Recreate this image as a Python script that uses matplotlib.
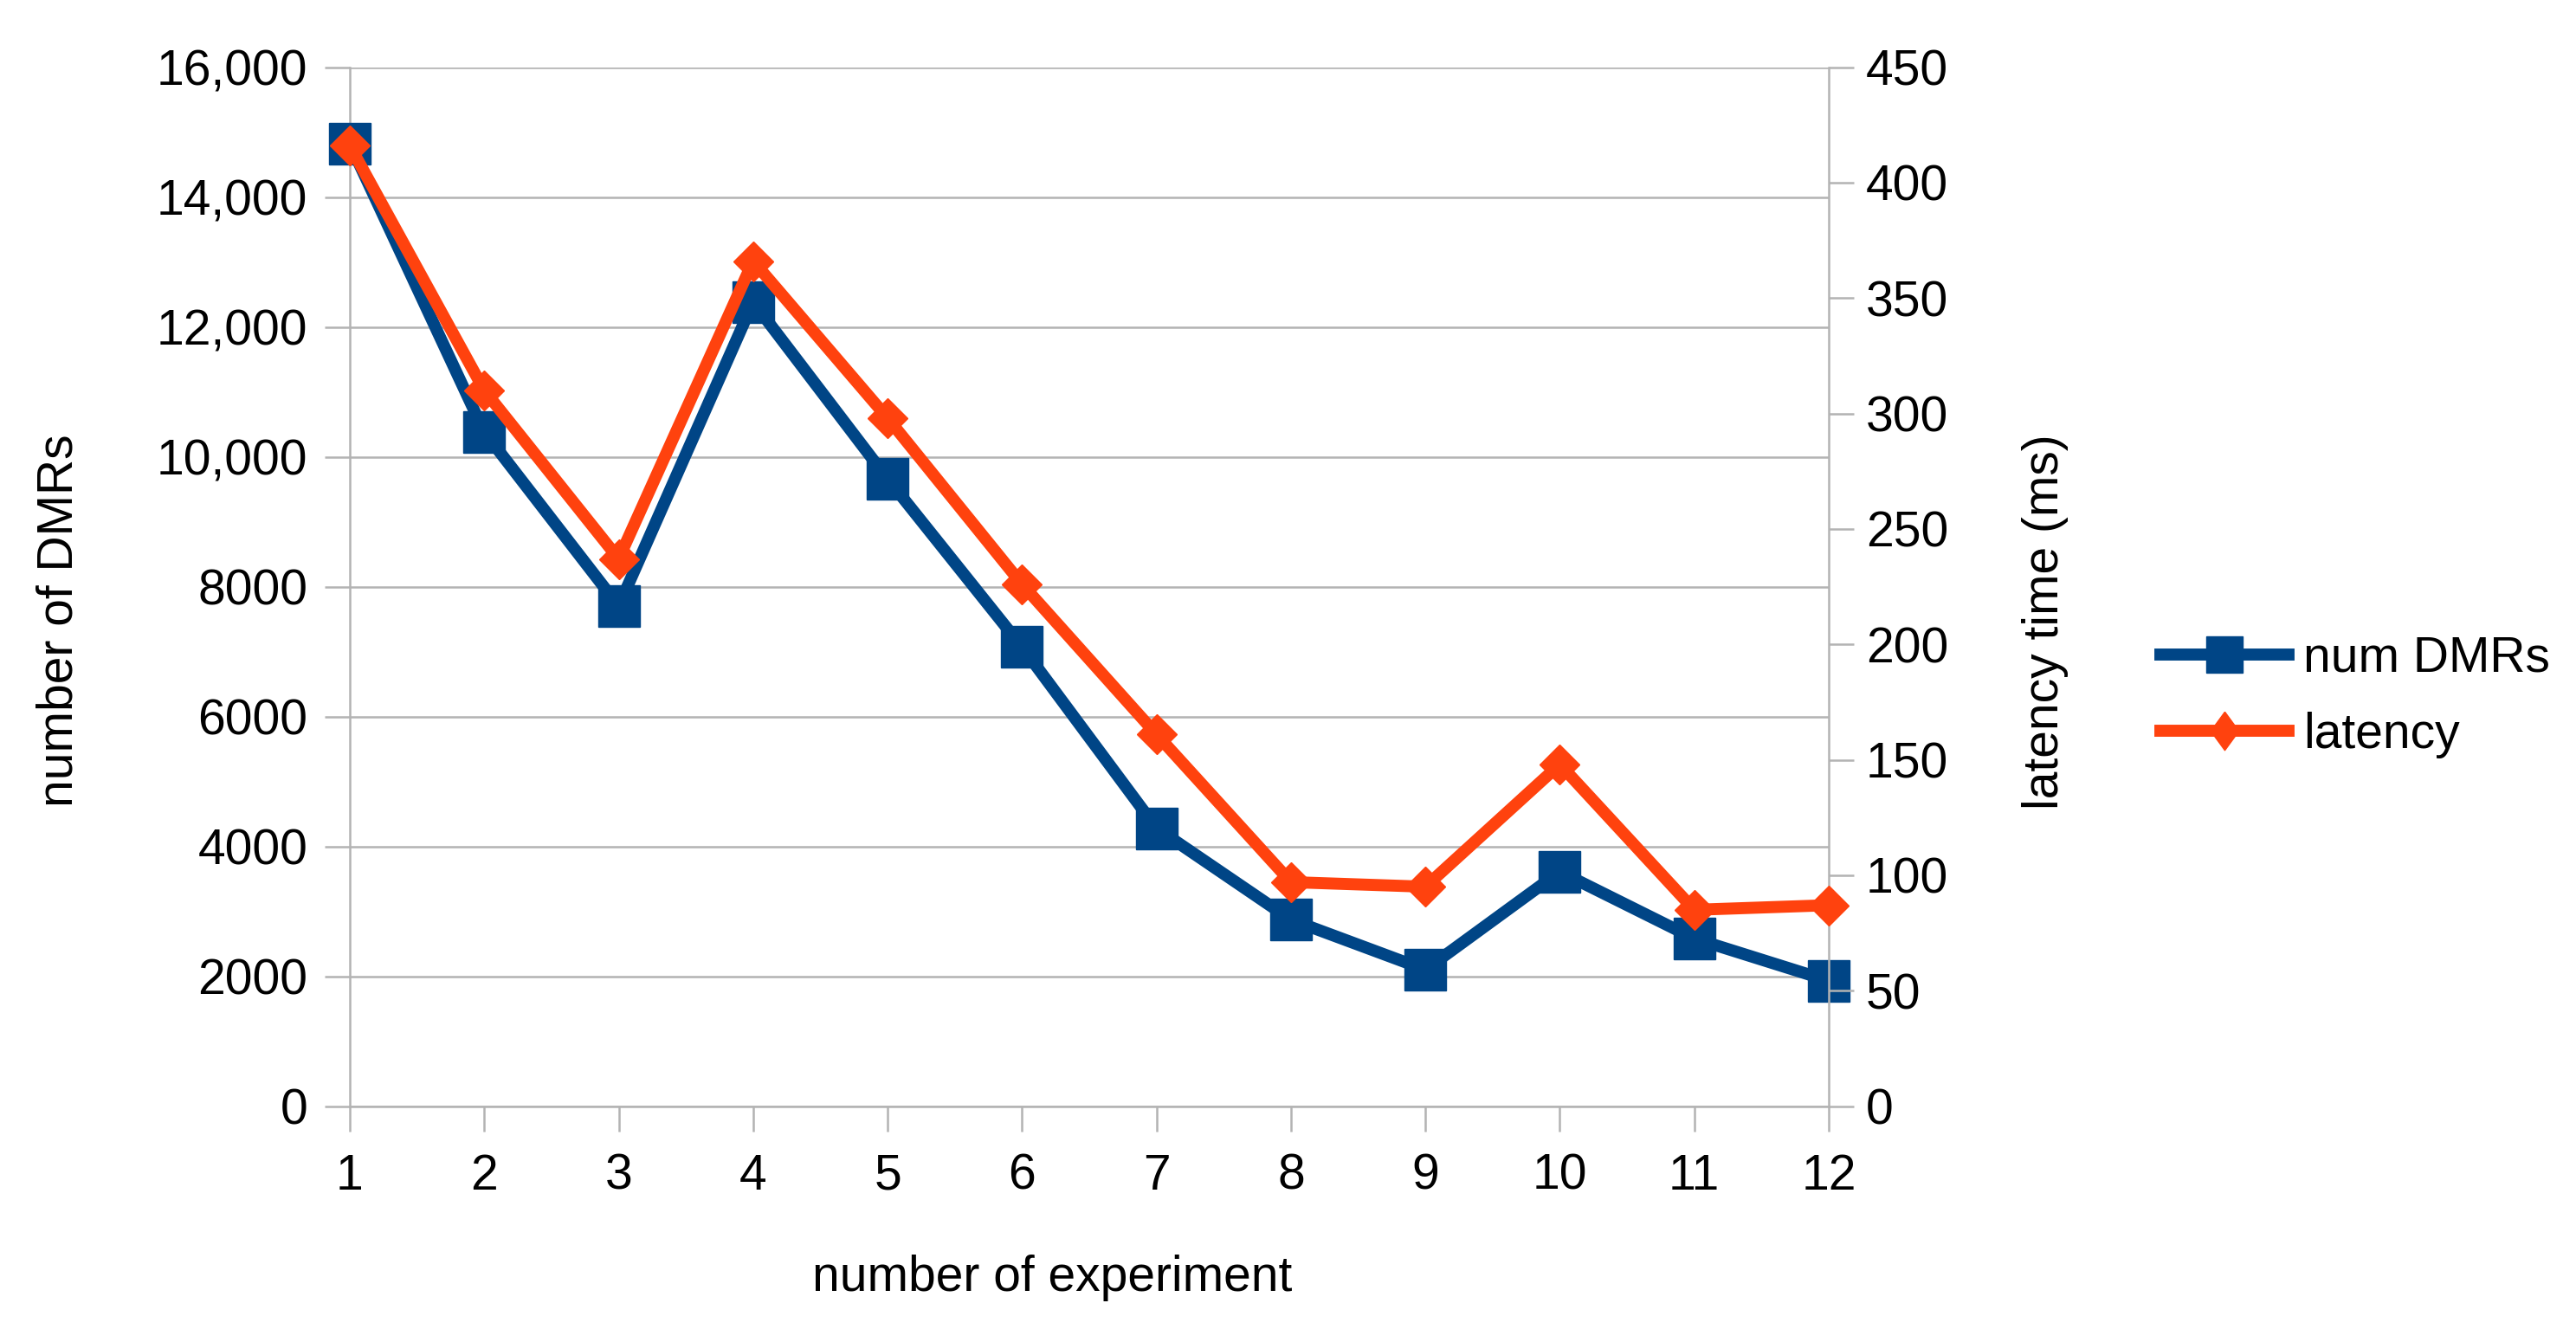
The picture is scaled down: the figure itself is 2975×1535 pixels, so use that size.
import matplotlib
matplotlib.use("Agg")
import matplotlib.pyplot as plt
from matplotlib.lines import Line2D

plt.rcParams['font.family'] = ['Liberation Sans', 'DejaVu Sans']

# data
experiments = [1, 2, 3, 4, 5, 6, 7, 8, 9, 10, 11, 12]
num_dmrs = [14820, 10380, 7700, 12380, 9660, 7070, 4280, 2870, 2100, 3610, 2580, 1930]
latency_ms = [416, 310, 237, 366, 298, 226, 161, 97, 95, 148, 85, 87]

left_ticks = [0, 2000, 4000, 6000, 8000, 10000, 12000, 14000, 16000]
left_tick_labels = ["0", "2000", "4000", "6000", "8000", "10,000", "12,000", "14,000", "16,000"]
right_ticks = [0, 50, 100, 150, 200, 250, 300, 350, 400, 450]

BLUE = "#004586"
ORANGE = "#ff420e"
GREY = "#b3b3b3"
FS = 41
W, H = 2975, 1535

fig = plt.figure(figsize=(W / 100, H / 100), dpi=100)
ax = fig.add_axes([404 / W, 1 - 1277.5 / H, (2112 - 404) / W, 1200 / H])

ax.plot(experiments, num_dmrs, color=BLUE, lw=10, marker="s", ms=34,
        mec=BLUE, mfc=BLUE, zorder=3, clip_on=False)
ax.set_xlim(1, 12)
ax.set_ylim(0, 16000)
ax.set_xticks(experiments)
ax.set_yticks(left_ticks)
ax.set_yticklabels(left_tick_labels)
ax.grid(axis="y", color=GREY, lw=1.8)
ax.set_axisbelow(True)
for s in ["top", "right"]:
    ax.spines[s].set_visible(False)
for s in ["left", "bottom"]:
    ax.spines[s].set_color(GREY)
    ax.spines[s].set_linewidth(1.8)
ax.tick_params(axis="y", length=21, width=1.8, color=GREY, pad=14, labelsize=FS)
ax.tick_params(axis="x", length=21, width=1.8, color=GREY, pad=18, labelsize=FS)

ax2 = ax.twinx()
ax2.plot(experiments, latency_ms, color=ORANGE, lw=10, marker="D", ms=23,
         mec=ORANGE, mfc=ORANGE, zorder=3, clip_on=False)
ax2.set_ylim(0, 450)
ax2.set_yticks(right_ticks)
for s in ["top", "left", "bottom"]:
    ax2.spines[s].set_visible(False)
ax2.spines["right"].set_color(GREY)
ax2.spines["right"].set_linewidth(1.8)
ax2.tick_params(axis="y", length=21, width=1.8, color=GREY, pad=10, labelsize=FS)

fig.text(69 / W, 1 - 717 / H, "number of DMRs", rotation=90, ha="center", va="center", fontsize=FS)
fig.text(2362 / W, 1 - 718 / H, "latency time (ms)", rotation=90, ha="center", va="center", fontsize=FS)
fig.text(1215 / W, 1 - 1476 / H, "number of experiment", ha="center", va="center", fontsize=FS)

# legend diamond is a bit taller than wide
tall_diamond = [(0, 1), (0.73, 0), (0, -1), (-0.73, 0), (0, 1)]
handles = [
    Line2D([], [], color=BLUE, lw=10, marker="s", ms=30, mec=BLUE),
    Line2D([], [], color=ORANGE, lw=10, marker=tall_diamond, ms=32, mec=ORANGE),
]
fig.legend(handles, ["num DMRs", "latency"], loc="center left",
           bbox_to_anchor=(2495 / W, 1 - 805 / H), frameon=False, fontsize=FS,
           borderpad=0, borderaxespad=0, handlelength=2.6, handletextpad=0.3,
           labelspacing=0.6)

fig.savefig("out.png", dpi=100)
